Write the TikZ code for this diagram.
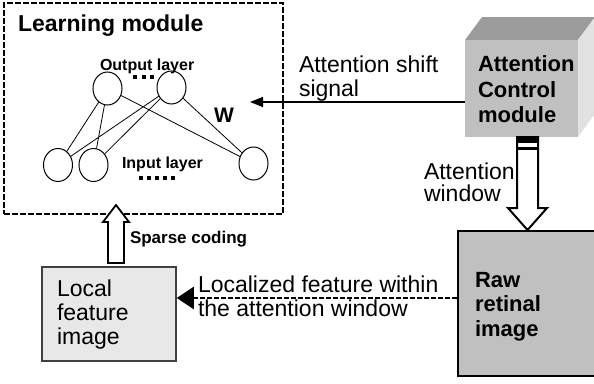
\documentclass[tikz,border=0pt]{standalone}
\usepackage{fontspec}
\setmainfont{Liberation Sans}
\usetikzlibrary{shapes.geometric,arrows.meta,calc}
\definecolor{ctrlfront}{HTML}{C0C0C0}
\definecolor{ctrltop}{HTML}{9C9C9C}
\definecolor{ctrlside}{HTML}{E2E2E2}
\definecolor{rawgray}{HTML}{C0C0C0}
\definecolor{localgray}{HTML}{E8E8E8}
\begin{document}
\begin{tikzpicture}[x=1pt,y=-1pt,
  neuron/.style={ellipse,draw,line width=1pt,minimum width=29pt,minimum height=33pt,inner sep=0pt},
  txt/.style={anchor=base west,inner sep=0pt,outer sep=0pt,font=\fontsize{23}{27}\selectfont},
  btxt/.style={anchor=base west,inner sep=0pt,outer sep=0pt,font=\fontsize{22}{26}\selectfont\bfseries},
  smalltxt/.style={anchor=base west,inner sep=0pt,outer sep=0pt,font=\fontsize{16}{19}\selectfont\bfseries},
  wire/.style={line width=0.8pt},
  blockarrow/.style={draw,fill=white,line width=2pt,line join=miter},
  dotsq/.style={fill=black}]
\useasboundingbox (0,0) rectangle (594,383);
\fill[white] (0,0) rectangle (594,383);

% ---------- Learning module ----------
\node[draw,line width=2.2pt,dash pattern=on 6pt off 2pt,minimum width=279pt,minimum height=211pt,inner sep=0pt] (learn) at (143.5,108.5) {};
\node[btxt,font=\fontsize{23}{27}\selectfont\bfseries] (ltitle) at (18,31) {Learning module};
\node[smalltxt] (outl) at (100,70) {Output layer};
\node[smalltxt] (inl) at (122,168) {Input layer};
\node[anchor=base west,inner sep=0pt,font=\fontsize{21}{24}\selectfont\bfseries] (wlab) at (214,122) {W};
\foreach \x in {133,141.5,150} {\fill[dotsq] (\x,75) rectangle +(4,4);}
\foreach \x in {139,147,155,163,171} {\fill[dotsq] (\x,176) rectangle +(3.6,3.6);}

\node[neuron] (o1) at (107.5,88.5) {};
\node[neuron] (o2) at (171.5,87.5) {};
\node[neuron] (i1) at (58,165) {};
\node[neuron] (i2) at (93.5,165) {};
\node[neuron] (i3) at (253.5,163.5) {};
\draw[wire] (o1)--(i1) (o1)--(i2) (o1)--(i3) (o2)--(i1) (o2)--(i2) (o2)--(i3);

% ---------- Attention control module (3D box) ----------
\fill[ctrltop] (465,40) -- (482,17) -- (595,17) -- (578,40) -- cycle;
\fill[ctrlside] (578,40) -- (595,17) -- (595,114) -- (578,137) -- cycle;
\node[fill=ctrlfront,minimum width=113pt,minimum height=97pt,inner sep=0pt] (ctrl) at (521.5,88.5) {};
\node[btxt] (ctrlA) at (478,71.5) {Attention};
\node[btxt] (ctrlB) at (478,97) {Control};
\node[btxt] (ctrlC) at (478,122) {module};

% attention shift signal
\coordinate (shiftend) at (250,102);
\draw[line width=1.5pt,-{Triangle[length=13pt,width=10pt]}] (ctrl.west |- shiftend) -- (shiftend);
\node[txt] (shiftA) at (299,72) {Attention shift};
\node[txt] (shiftB) at (299,96.5) {signal};

% ---------- Raw retinal image ----------
\node[draw,line width=1.5pt,fill=rawgray,minimum width=142pt,minimum height=145pt,inner sep=0pt] (raw) at (529,303.5) {};
\node[btxt] (rawA) at (475,287) {Raw};
\node[btxt] (rawB) at (475,311.5) {retinal};
\node[btxt] (rawC) at (475,336.5) {image};

% attention window block arrow
\draw[blockarrow] (517,137) -- (538,137) -- (538,208) -- (547,208) -- (527.5,230) -- (508,208) -- (517,208) -- cycle;
\fill (516,136) rectangle (539,143);
\fill (516,146.5) rectangle (539,149.5);
\node[txt] (winA) at (424,179) {Attention};
\node[txt] (winB) at (424,201.5) {window};

% ---------- Local feature image ----------
\node[draw=black!75,line width=1.5pt,fill=localgray,minimum width=134pt,minimum height=94pt,inner sep=0pt] (local) at (109,314) {};
\node[txt] (locA) at (57,296) {Local};
\node[txt] (locB) at (57,320) {feature};
\node[txt] (locC) at (57,344) {image};

% sparse coding block arrow
\draw[blockarrow,line width=1.8pt] (108,263) -- (124,263) -- (124,222) -- (129,222) -- (116,205) -- (103,222) -- (108,222) -- cycle;
\node[smalltxt,font=\fontsize{17}{20}\selectfont\bfseries] (sparse) at (130,243) {Sparse coding};

% localized feature dashed arrow
\coordinate (dline) at (0,298);
\draw[line width=2.3pt,dash pattern=on 5pt off 2pt,-{Triangle[length=17pt,width=22pt]}] (raw.west |- dline) -- (local.east |- dline);
\node[txt] (featA) at (198,292) {Localized feature within};
\node[txt] (featB) at (198,316) {the attention window};
\end{tikzpicture}
\end{document}
